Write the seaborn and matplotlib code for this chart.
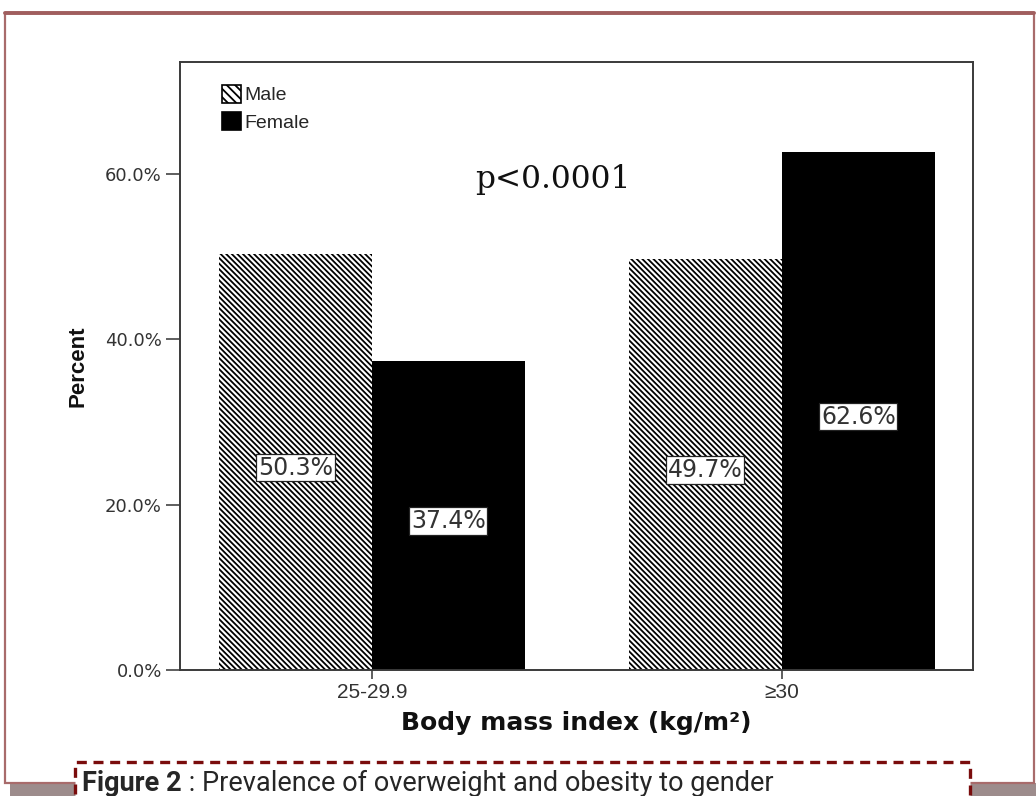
import numpy as np
import pandas as pd
import matplotlib
matplotlib.use("Agg")
import matplotlib.pyplot as plt
from matplotlib.patches import Patch, Rectangle
from matplotlib.lines import Line2D
import seaborn as sns

# data
bmi_groups = ["25-29.9", "\u226530"]
genders = ["Male", "Female"]
male_pct = [50.3, 49.7]
female_pct = [37.4, 62.6]
y_ticks = [0, 20, 40, 60]
p_text = "p<0.0001"
caption_bold = "Figure 2"
caption_rest = " : Prevalence of overweight and obesity to gender"

df = pd.DataFrame({
    "bmi": bmi_groups * 2,
    "gender": ["Male"] * 2 + ["Female"] * 2,
    "pct": male_pct + female_pct,
})

W, H = 1036, 796
HATCH = "\\" * 6
sns.set_style("white")
plt.rcParams["hatch.linewidth"] = 1.3
plt.rcParams["font.family"] = ["Liberation Sans", "DejaVu Sans"]


def fx(x):
    return x / W


def fy(y):
    return 1 - y / H


fig = plt.figure(figsize=(W / 100, H / 100), dpi=100)
fig.patch.set_facecolor("white")

# outer page frame and shadow
fig.add_artist(Rectangle((fx(10), fy(796)), fx(1026), 13 / H, transform=fig.transFigure,
                         facecolor="#9d8c8c", edgecolor="none", zorder=0))
fig.add_artist(Rectangle((fx(5), fy(783)), fx(1029), (783 - 13) / H, transform=fig.transFigure,
                         facecolor="white", edgecolor="#a86b6b", linewidth=1.6, zorder=1))
fig.add_artist(Line2D([fx(5), fx(1034)], [fy(12.5), fy(12.5)], transform=fig.transFigure,
                      color="#a05e5e", linewidth=2.8, zorder=2))

ax = fig.add_axes([fx(180), fy(670), fx(973) - fx(180), (670 - 62) / H])
ax.set_zorder(3)

sns.barplot(
    data=df, x="bmi", y="pct", hue="gender", order=bmi_groups, hue_order=genders,
    palette={"Male": "white", "Female": "black"}, width=0.746, edgecolor="black",
    linewidth=0, saturation=1, legend=False, ax=ax,
)
for bar in ax.containers[0]:
    bar.set_hatch(HATCH)

for cont in ax.containers:
    labels = ax.bar_label(cont, fmt="%.1f%%", label_type="center", fontsize=17,
                          family="DejaVu Sans", color="#333333")
    for t in labels:
        t.set_bbox(dict(facecolor="white", edgecolor="#222222", linewidth=0.9, pad=1.2))
        x, y = t.xyann
        t.xyann = (x, y - 4)

ax.set_xlim(-0.468, 1.466)
ax.set_ylim(0, 73.5)
ax.set_yticks(y_ticks)
ax.set_yticklabels([f"{v:.1f}%" for v in y_ticks], family="DejaVu Sans", fontsize=13,
                   color="#333333")
ax.set_xticks([0, 1])
ax.set_xticklabels(bmi_groups, fontsize=15, color="#333333")
ax.tick_params(axis="y", left=True, length=10, width=1.1, color="#333333", pad=3)
ax.tick_params(axis="x", bottom=True, length=6.5, width=1.1, color="#333333", pad=3)
for s in ax.spines.values():
    s.set_color("#3a3a3a")
    s.set_linewidth(1.4)

ax.set_xlabel("Body mass index (kg/m\u00b2)", family="DejaVu Sans", fontweight="bold",
              fontsize=18, labelpad=6, color="#111111")
ax.set_ylabel("Percent", fontweight="bold", fontsize=16, labelpad=12, color="#111111")

ax.text(0.441, 59.3, p_text, family="DejaVu Serif", fontsize=22.5, ha="center",
        va="center", color="#111111")

handles = [Patch(facecolor="white", edgecolor="black", hatch="\\\\\\\\", linewidth=1.2),
           Patch(facecolor="black", edgecolor="black", linewidth=1.2)]
ax.legend(handles, genders, loc="upper left", bbox_to_anchor=(0.053, 0.962), frameon=False,
          fontsize=14, handlelength=1.0, handleheight=1.0, handletextpad=0.15,
          labelspacing=0.4, borderaxespad=0, borderpad=0)

# caption box
fig.add_artist(Rectangle((fx(75), fy(800)), fx(895), 38 / H, transform=fig.transFigure,
                         facecolor="white", edgecolor="#7a0c0c", linewidth=2.4,
                         linestyle=(0, (3, 2)), zorder=4))
t1 = fig.text(fx(82), fy(791), caption_bold, family="Roboto", fontweight="bold",
              fontsize=19.5, ha="left", va="baseline", zorder=5)
fig.canvas.draw()
bb = t1.get_window_extent()
fig.text(bb.x1 / W, fy(791), caption_rest, family="Roboto", fontsize=19.5, ha="left",
         va="baseline", zorder=5)

fig.savefig("out.png", dpi=100)
